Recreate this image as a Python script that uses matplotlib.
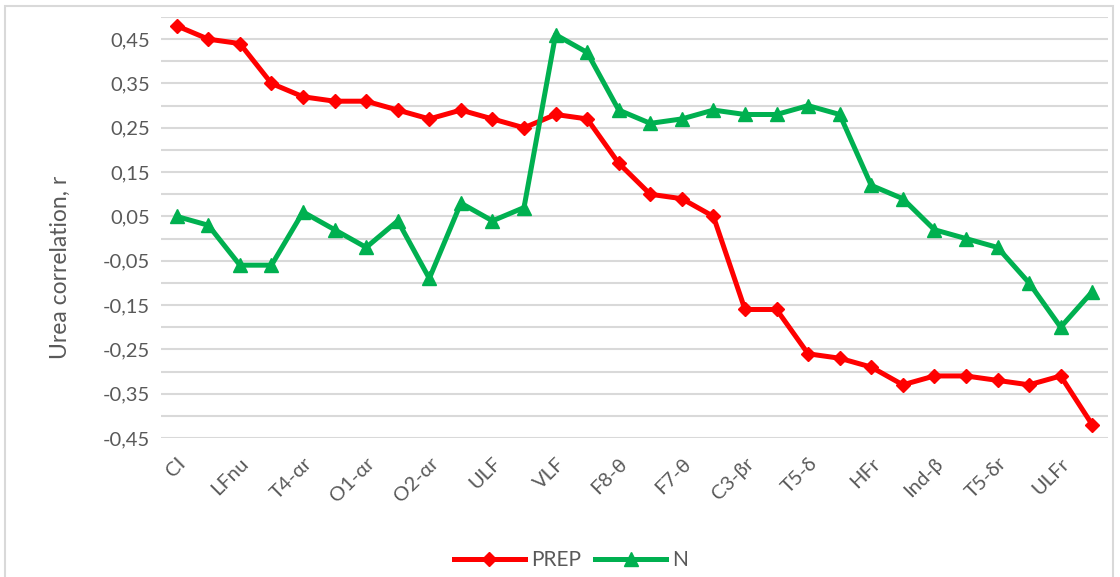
import numpy as np
import matplotlib
matplotlib.use("Agg")
import matplotlib.pyplot as plt
from matplotlib.patches import Rectangle
from matplotlib.ticker import FixedLocator

# every second category is labelled on the x axis
tick_labels = ["CI", "LFnu", "T4-αr", "O1-αr", "O2-αr", "ULF", "VLF", "F8-θ",
               "F7-θ", "C3-βr", "T5-δ", "HFr", "Ind-β", "T5-δr", "ULFr"]

prep = [0.48, 0.45, 0.44, 0.35, 0.32, 0.31, 0.31, 0.29, 0.27, 0.29,
        0.27, 0.25, 0.28, 0.27, 0.17, 0.10, 0.09, 0.05, -0.16, -0.16,
        -0.26, -0.27, -0.29, -0.33, -0.31, -0.31, -0.32, -0.33, -0.31, -0.42]
n_vals = [0.05, 0.03, -0.06, -0.06, 0.06, 0.02, -0.02, 0.04, -0.09, 0.08,
          0.04, 0.07, 0.46, 0.42, 0.29, 0.26, 0.27, 0.29, 0.28, 0.28,
          0.30, 0.28, 0.12, 0.09, 0.02, 0.00, -0.02, -0.10, -0.20, -0.12]

plt.rcParams['font.family'] = ['Lato', 'DejaVu Sans']
txt = "#595959"

fig = plt.figure(figsize=(11.2, 5.77), dpi=100)
ax = fig.add_axes([161 / 1120, 1 - 438 / 577, (1108 - 161) / 1120, (438 - 17) / 577])

x = np.arange(len(prep))
ax.plot(x, prep, color="#FF0000", lw=3.6, marker="D", ms=7.5, label="PREP", zorder=3)
ax.plot(x, n_vals, color="#00B050", lw=3.6, marker="^", ms=10, label="N", zorder=3)

ax.set_xlim(-0.5, len(prep) - 0.5)
ax.set_ylim(-0.45, 0.50)

yt = np.arange(-0.45, 0.46, 0.1)
ax.yaxis.set_major_locator(FixedLocator(yt))
ax.yaxis.set_minor_locator(FixedLocator(np.arange(-0.40, 0.51, 0.1)))
ax.set_yticklabels([("%.2f" % v).replace(".", ",") for v in yt], color=txt, fontsize=14.5)
ax.grid(axis="y", which="both", color="#D9D9D9", lw=1.5)
ax.set_axisbelow(True)

ax.set_xticks(x[::2])
ax.set_xticklabels(tick_labels, rotation=45, ha="right", rotation_mode="anchor",
                   color=txt, fontsize=14.5)
ax.tick_params(length=0, which="both")
ax.tick_params(axis="x", pad=12)
ax.tick_params(axis="y", pad=8)
for s in ax.spines.values():
    s.set_visible(False)

ax.set_ylabel("Urea correlation, r", color=txt, fontsize=16.5)
ax.yaxis.set_label_coords(-0.095, 0.406)

fig.legend(loc="center", bbox_to_anchor=(571 / 1120, 1 - 560 / 577), ncol=2,
           frameon=False, fontsize=15, handlelength=3.4, columnspacing=0.7,
           handletextpad=0.3, labelcolor=txt)

fig.patches.append(Rectangle((5 / 1120, -0.01), 1108 / 1120, 1.0 - 6 / 577 + 0.01,
                             transform=fig.transFigure, fill=False,
                             edgecolor="#D9D9D9", lw=1.5))

fig.savefig("out.png", dpi=100)
